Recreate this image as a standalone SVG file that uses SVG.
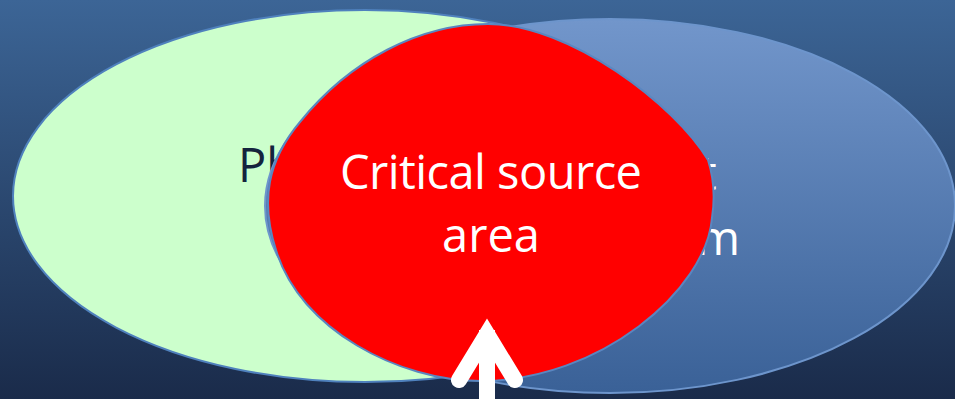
<svg xmlns="http://www.w3.org/2000/svg" width="955" height="399" viewBox="0 0 955 399">
  <defs>
    <linearGradient id="bg" x1="0" y1="0" x2="0" y2="1">
      <stop offset="0" stop-color="#3c6596"/>
      <stop offset="1" stop-color="#1a2b4a"/>
    </linearGradient>
    <linearGradient id="blueFill" x1="0" y1="0" x2="0" y2="1">
      <stop offset="0" stop-color="#7296cb"/>
      <stop offset="1" stop-color="#3a6197"/>
    </linearGradient>
  </defs>
  <style>
    .outline { stroke: #4f81bd; stroke-width: 2; }
    .lbl { font-family: "Open Sans", "Liberation Sans", sans-serif; font-size: 47px; }
    .dark { fill: #14233d; }
    .light { fill: #ffffff; }
    .arrow { fill: none; stroke: #ffffff; stroke-width: 16; }
  </style>
  <rect x="0" y="0" width="955" height="399" fill="url(#bg)"/>

  <g id="phosphorus-ellipse">
    <ellipse cx="365" cy="196" rx="352" ry="186" fill="#ccffcc" class="outline"/>
    <text class="lbl dark" x="238" y="182">Ph</text>
  </g>

  <g id="transport-ellipse">
    <ellipse cx="610" cy="206" rx="345" ry="187" fill="url(#blueFill)" stroke="#6d95cc" stroke-width="2"/>
    <text class="lbl light" x="700" y="190">t</text>
    <text class="lbl light" x="740" y="255" text-anchor="end">m</text>
  </g>

  <g id="critical-source-area">
    <path d="M488,24 C570,24 675,105 708,160 C716,185 714,205 712,218 C706,290 600,381 480,381 C400,381 300,330 276,250 C260,200 268,160 300,122 C350,60 420,24 488,24 Z" fill="#ff0000" stroke="#5a86c0" stroke-width="2"/>
    <text class="lbl light" x="491" y="189" text-anchor="middle" textLength="302">Critical source</text>
    <text class="lbl light" x="491" y="252" text-anchor="middle">area</text>
  </g>

  <g id="connectors">
    <path class="arrow" d="M487,399 V330"/>
    <polyline class="arrow" points="459,380 487,334 515,380" stroke-linecap="round" stroke-linejoin="miter" stroke-miterlimit="10"/>
  </g>
</svg>
